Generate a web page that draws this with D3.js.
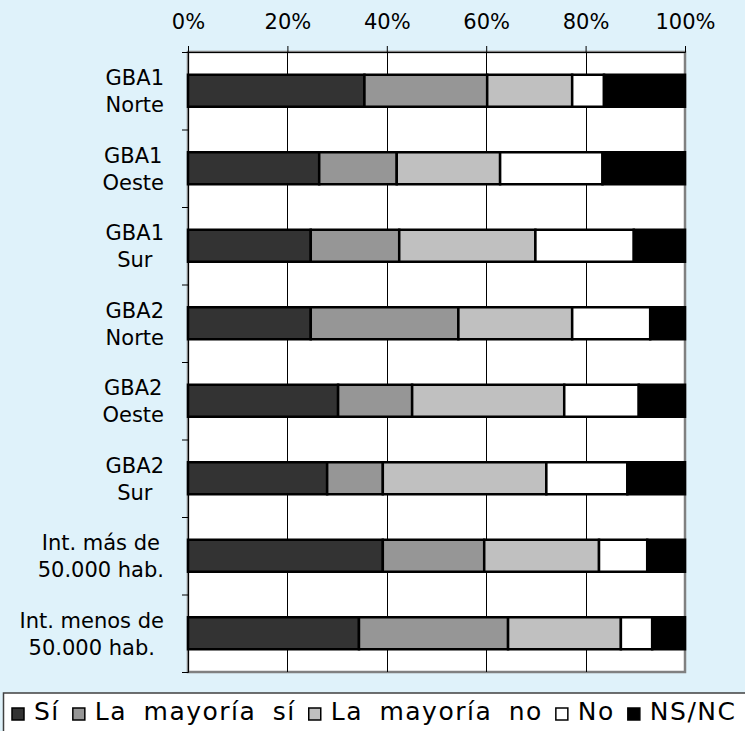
<!DOCTYPE html>
<html>
<head>
<meta charset="utf-8">
<script src="https://cdn.jsdelivr.net/npm/d3@7"></script>
<style>
  html, body { margin: 0; padding: 0; background: #dff2fa; }
  svg { display: block; }
</style>
</head>
<body>
<svg id="chart" width="745" height="731"></svg>
<script>
// ---- data ----
const categories = ["GBA1 Norte", "GBA1 Oeste", "GBA1 Sur", "GBA2 Norte", "GBA2 Oeste", "GBA2 Sur", "Int. más de 50.000 hab.", "Int. menos de 50.000 hab."];
const categoryLines = [["GBA1", "Norte"], ["GBA1", "Oeste"], ["GBA1", "Sur"], ["GBA2", "Norte"], ["GBA2", "Oeste"], ["GBA2", "Sur"], ["Int. más de", "50.000 hab."], ["Int. menos de", "50.000 hab."]];
const seriesNames = ["Sí", "La mayoría sí", "La mayoría no", "No", "NS/NC"];
const si        = [35.5, 26.4, 24.7, 24.7, 30.2, 28.0, 39.2, 34.4];
const mayoriaSi = [24.7, 15.6, 17.8, 29.7, 14.9, 11.2, 20.4, 30.0];
const mayoriaNo = [17.1, 20.8, 27.4, 22.9, 30.6, 32.9, 23.1, 22.7];
const no        = [6.4, 20.6, 19.8, 15.7, 15.0, 16.3, 9.7, 6.3];
const nsnc      = [16.3, 16.6, 10.3, 7.0, 9.3, 11.6, 7.6, 6.6];
const tickValues = [0, 20, 40, 60, 80, 100];
const colors = ["#333333", "#969696", "#c0c0c0", "#ffffff", "#000000"];

// ---- build table ----
const seriesArrays = [si, mayoriaSi, mayoriaNo, no, nsnc];
const table = categories.map((c, i) => {
  const row = { cat: c };
  seriesNames.forEach((s, k) => row[s] = seriesArrays[k][i]);
  return row;
});
const stacked = d3.stack().keys(seriesNames)(table);

const svg = d3.select("#chart");
const L = 188, R = 685, T = 52, B = 672;
const x = d3.scaleLinear().domain([0, 100]).range([L, R]);
const step = (B - T) / categories.length;
const pad = 1 - 32 / step;
const y = d3.scaleBand().domain(categories).range([T, B]).paddingInner(pad).paddingOuter(pad / 2);
const color = d3.scaleOrdinal().domain(seriesNames).range(colors);
const font = "'DejaVu Sans', Verdana, sans-serif";

// plot area
svg.append("rect").attr("x", L).attr("y", T).attr("width", R - L).attr("height", B - T)
  .attr("fill", "#ffffff").attr("stroke", "#808080").attr("stroke-width", 2.5);

// gridlines
svg.append("g").selectAll("line").data(tickValues.filter(v => v > 0 && v < 100)).join("line")
  .attr("x1", d => Math.round(x(d)) + 0.5).attr("x2", d => Math.round(x(d)) + 0.5)
  .attr("y1", T).attr("y2", B).attr("stroke", "#000").attr("stroke-width", 1);

// bars
svg.append("g").selectAll("g").data(stacked).join("g")
  .attr("fill", d => color(d.key))
  .selectAll("rect").data(d => d).join("rect")
  .attr("x", d => x(d[0])).attr("width", d => x(d[1]) - x(d[0]))
  .attr("y", d => y(d.data.cat)).attr("height", y.bandwidth())
  .attr("stroke", "#000").attr("stroke-width", 2.5);

// top axis
const xAxis = d3.axisTop(x).tickValues(tickValues).tickFormat(d => d + "%").tickSize(6).tickPadding(17);
const gx = svg.append("g").attr("transform", `translate(0,${T})`).call(xAxis);
gx.select(".domain").attr("stroke", "#000");
gx.selectAll("line").attr("stroke", "#000");
gx.selectAll("text").attr("font-family", font).attr("font-size", 21).attr("fill", "#000");

// left axis: ticks at category boundaries
const yb = d3.scaleLinear().domain([0, categories.length]).range([T, B]);
const yAxis = d3.axisLeft(yb).ticks(categories.length).tickFormat("").tickSize(6);
const gy = svg.append("g").attr("transform", `translate(${L},0)`).call(yAxis);
gy.select(".domain").attr("stroke", "#000");
gy.selectAll("line").attr("stroke", "#000");

// category labels
const labelRight = 164;
const lg = svg.append("g").attr("font-family", font).attr("font-size", 21).attr("fill", "#000");
categoryLines.forEach((lines, i) => {
  const cy = y(categories[i]) + y.bandwidth() / 2;
  const g = lg.append("g");
  const texts = lines.map((t, j) => g.append("text").text(t)
    .attr("y", cy + (j === 0 ? -5.5 : 21.5)).attr("text-anchor", "middle"));
  const maxW = d3.max(texts, t => t.node().getComputedTextLength());
  texts.forEach(t => t.attr("x", labelRight - maxW / 2));
});

// legend
const leg = svg.append("g");
leg.append("rect").attr("x", 3.5).attr("y", 693).attr("width", 760).attr("height", 60)
  .attr("fill", "#ffffff").attr("stroke", "#404040").attr("stroke-width", 1.5);
let lx = 12;
seriesNames.forEach((s, k) => {
  leg.append("rect").attr("x", lx).attr("y", 708).attr("width", 12).attr("height", 12)
    .attr("fill", color(s)).attr("stroke", "#000").attr("stroke-width", 1.5);
  lx += 22;
  const t = leg.append("text").text(s).attr("x", lx).attr("y", 719.5)
    .attr("font-family", font).attr("font-size", 25).attr("fill", "#000")
    .attr("letter-spacing", "1.5px").attr("word-spacing", "7px");
  lx += t.node().getComputedTextLength() + 13;
});
</script>
</body>
</html>
